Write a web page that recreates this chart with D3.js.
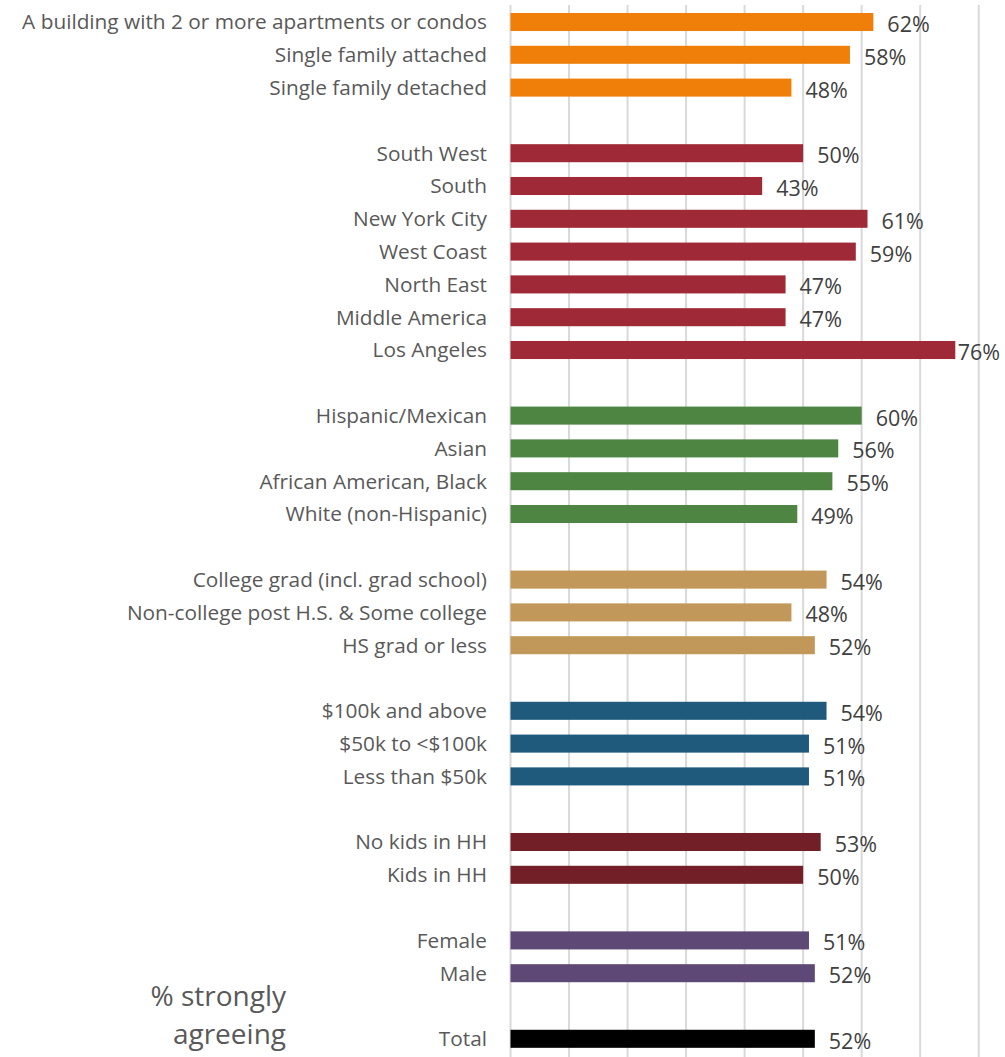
<!DOCTYPE html>
<html>
<head>
<meta charset="utf-8">
<script src="https://cdn.jsdelivr.net/npm/d3@7"></script>
<style>
  html, body { margin: 0; padding: 0; background: #fff; }
  svg { display: block; }
</style>
</head>
<body>
<div id="chart"></div>
<script>
// ---- Data ----
const housingCats = ["A building with 2 or more apartments or condos", "Single family attached", "Single family detached"];
const housingVals = [62, 58, 48];
const regionCats = ["South West", "South", "New York City", "West Coast", "North East", "Middle America", "Los Angeles"];
const regionVals = [50, 43, 61, 59, 47, 47, 76];
const ethnicCats = ["Hispanic/Mexican", "Asian", "African American, Black", "White (non-Hispanic)"];
const ethnicVals = [60, 56, 55, 49];
const eduCats = ["College grad (incl. grad school)", "Non-college post H.S. & Some college", "HS grad or less"];
const eduVals = [54, 48, 52];
const incomeCats = ["$100k and above", "$50k to <$100k", "Less than $50k"];
const incomeVals = [54, 51, 51];
const kidsCats = ["No kids in HH", "Kids in HH"];
const kidsVals = [53, 50];
const genderCats = ["Female", "Male"];
const genderVals = [51, 52];
const totalCats = ["Total"];
const totalVals = [52];
const groupColors = ["#F07F09", "#9F2936", "#4E8542", "#C19859", "#1F5A7D", "#721F28", "#5E4876", "#000000"];
const gridTicks = [0, 10, 20, 30, 40, 50, 60, 70, 80];
const titleLines = ["% strongly", "agreeing"];

const groups = [
  [housingCats, housingVals], [regionCats, regionVals], [ethnicCats, ethnicVals],
  [eduCats, eduVals], [incomeCats, incomeVals], [kidsCats, kidsVals],
  [genderCats, genderVals], [totalCats, totalVals]
];

// Build rows with blank spacer rows between groups
const rows = [];
groups.forEach((g, gi) => {
  if (gi > 0) rows.push({ key: "gap" + gi, label: "", value: null, color: null });
  g[0].forEach((c, i) => rows.push({ key: c, label: c, value: g[1][i], color: groupColors[gi] }));
});

// ---- Layout ----
const W = 1005, H = 1057;
const x0 = 510.5, x1 = 978.7;
const svg = d3.select("#chart").append("svg").attr("width", W).attr("height", H);

const x = d3.scaleLinear().domain([0, 80]).range([x0, x1]);
const y = d3.scaleBand().domain(rows.map(r => r.key)).range([5.6, 1055.2])
  .paddingInner(0.45).paddingOuter(0.225);

// gridlines
svg.append("g").selectAll("line").data(gridTicks).join("line")
  .attr("x1", d => x(d)).attr("x2", d => x(d))
  .attr("y1", 5).attr("y2", H)
  .attr("stroke", "#D9D9D9").attr("stroke-width", 2);

const data = rows.filter(r => r.value !== null);

// bars
svg.append("g").selectAll("rect").data(data).join("rect")
  .attr("x", x(0))
  .attr("y", d => y(d.key))
  .attr("width", d => x(d.value) - x(0))
  .attr("height", y.bandwidth())
  .attr("fill", d => d.color);

const font = "'Open Sans', 'DejaVu Sans', sans-serif";

// category labels
svg.append("g").selectAll("text").data(data).join("text")
  .attr("x", 487)
  .attr("y", d => y(d.key) + y.bandwidth() / 2)
  .attr("dy", "0.36em")
  .attr("text-anchor", "end")
  .attr("font-family", font)
  .attr("font-size", 20.8)
  .attr("fill", "#595959")
  .text(d => d.label);

// value labels
const vl = svg.append("g").selectAll("text").data(data).join("text")
  .attr("y", d => y(d.key) + y.bandwidth() / 2 + 10)
  .attr("font-family", font)
  .attr("font-size", 21.5)
  .attr("fill", "#404040")
  .text(d => d.value + "%");
vl.each(function(d) {
  const w = this.getComputedTextLength();
  const px = Math.min(x(d.value) + 14, 1000 - w);
  d3.select(this).attr("x", px);
});

// axis title
svg.append("g").selectAll("text").data(titleLines).join("text")
  .attr("x", 286)
  .attr("y", (d, i) => 1006 + i * 38)
  .attr("text-anchor", "end")
  .attr("font-family", font)
  .attr("font-size", 28)
  .attr("fill", "#595959")
  .text(d => d);
</script>
</body>
</html>
